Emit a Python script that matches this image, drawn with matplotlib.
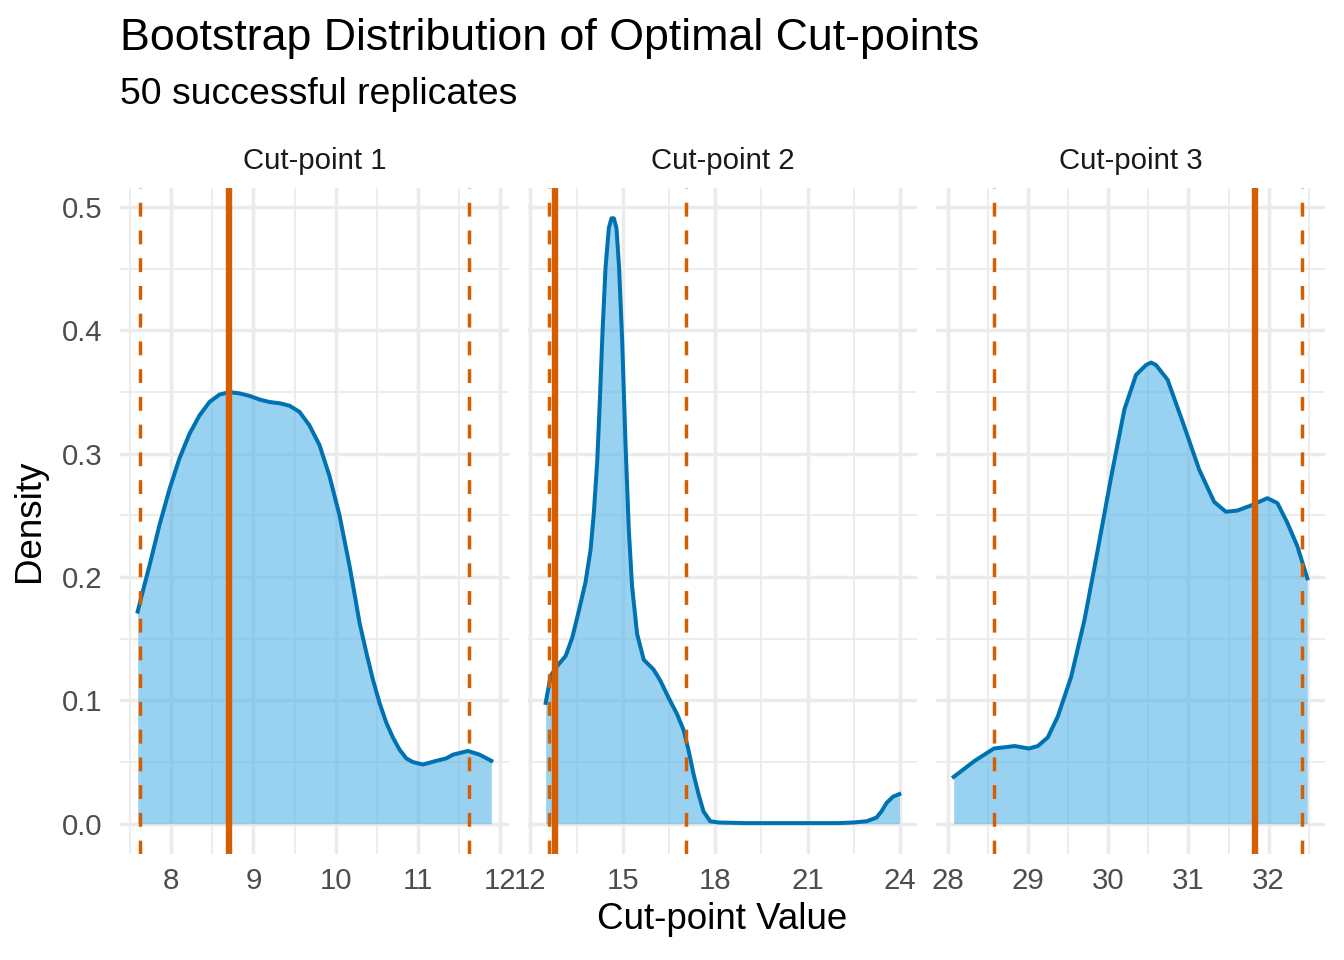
import numpy as np
import matplotlib.pyplot as plt
from matplotlib.ticker import FixedLocator

plt.rcParams['font.family'] = ['Liberation Sans', 'DejaVu Sans']

# density curves (x = cut-point value, y = density)
cp1_x = [7.594, 7.635, 7.736, 7.858, 7.979, 8.10, 8.222, 8.344, 8.466, 8.587,
         8.709, 8.83, 8.952, 9.074, 9.195, 9.317, 9.438, 9.56, 9.681, 9.803,
         9.924, 10.046, 10.168, 10.24, 10.289, 10.371, 10.451, 10.532, 10.614,
         10.694, 10.776, 10.857, 10.937, 11.059, 11.222, 11.343, 11.424, 11.606,
         11.748, 11.89]
cp1_y = [0.172, 0.183, 0.209, 0.242, 0.271, 0.296, 0.316, 0.331, 0.342, 0.348,
         0.350, 0.349, 0.347, 0.344, 0.342, 0.341, 0.339, 0.334, 0.323, 0.307,
         0.282, 0.250, 0.209, 0.182, 0.163, 0.139, 0.117, 0.098, 0.082,
         0.070, 0.060, 0.053, 0.050, 0.048, 0.051, 0.053, 0.056, 0.059,
         0.056, 0.051]

cp2_x = [12.496, 12.658, 12.874, 13.144, 13.36, 13.576, 13.79, 13.953, 14.06,
         14.17, 14.255, 14.34, 14.44, 14.547, 14.633, 14.709, 14.795, 14.88,
         14.98, 15.086, 15.194, 15.30, 15.464, 15.68, 16.0, 16.22, 16.49, 16.76,
         16.975, 17.14, 17.30, 17.46, 17.62, 17.84, 18.11, 19.0, 20.5, 22.0,
         22.49, 22.92, 23.24, 23.4, 23.57, 23.78, 23.98]
cp2_y = [0.098, 0.120, 0.128, 0.136, 0.151, 0.173, 0.196, 0.222, 0.252,
         0.294, 0.343, 0.398, 0.451, 0.483, 0.491, 0.491, 0.483, 0.451,
         0.392, 0.310, 0.239, 0.193, 0.154, 0.133, 0.125, 0.116, 0.102, 0.089,
         0.076, 0.059, 0.040, 0.024, 0.010, 0.002, 0.001, 0.0005, 0.0005, 0.0005,
         0.001, 0.002, 0.005, 0.010, 0.017, 0.022, 0.024]

cp3_x = [28.071, 28.333, 28.573, 28.706, 28.831, 29.009, 29.121, 29.245, 29.37,
         29.536, 29.702, 29.868, 30.035, 30.201, 30.346, 30.471, 30.533, 30.595,
         30.74, 30.927, 31.135, 31.321, 31.467, 31.611, 31.778, 31.985, 32.11,
         32.234, 32.359, 32.483]
cp3_y = [0.038, 0.051, 0.061, 0.062, 0.063, 0.061, 0.063, 0.070, 0.087,
         0.119, 0.165, 0.222, 0.281, 0.336, 0.364, 0.372, 0.374, 0.372,
         0.360, 0.326, 0.287, 0.261, 0.253, 0.254, 0.258, 0.264, 0.260,
         0.244, 0.225, 0.199]

panel_names = ["Cut-point 1", "Cut-point 2", "Cut-point 3"]
estimate = [8.70, 12.80, 31.83]
ci_low = [7.623, 12.59, 28.57]
ci_high = [11.62, 17.06, 32.42]
x_ticks = [[8, 9, 10, 11, 12], [12, 15, 18, 21, 24], [28, 29, 30, 31, 32]]
y_ticks = [0.0, 0.1, 0.2, 0.3, 0.4, 0.5]

curves = [(cp1_x, cp1_y), (cp2_x, cp2_y), (cp3_x, cp3_y)]

W, H = 1344, 960
fig = plt.figure(figsize=(7, 5), dpi=192)
fig.patch.set_facecolor("white")

# shared y range with ggplot style 5% expansion
ymax = max(max(c[1]) for c in curves)
ylim = (-0.05 * ymax, 1.05 * ymax)

lefts = [120, 528, 936]
pw, top, bottom = 389, 188, 854

for i, (xs, ys) in enumerate(curves):
    ax = fig.add_axes([lefts[i] / W, 1 - bottom / H, pw / W, (bottom - top) / H])
    lo = min(min(xs), ci_low[i])
    hi = max(max(xs), ci_high[i])
    pad = 0.05 * (hi - lo)
    ax.set_xlim(lo - pad, hi + pad)
    ax.set_ylim(*ylim)

    ax.fill_between(xs, ys, 0, color="#56B4E9", alpha=0.6, lw=0, zorder=2)
    ax.plot(xs, ys, color="#0072B2", lw=1.5, zorder=3, solid_joinstyle="round")
    ax.axvline(estimate[i], color="#D55E00", lw=2.4, zorder=4)
    for v in (ci_low[i], ci_high[i]):
        ax.axvline(v, color="#D55E00", lw=1.3, ls=(0, (4, 4)), zorder=4)

    t = x_ticks[i]
    step = t[1] - t[0]
    ax.set_xticks(t)
    ax.xaxis.set_minor_locator(FixedLocator([t[0] - step / 2] + [v + step / 2 for v in t]))
    ax.set_yticks(y_ticks)
    ax.yaxis.set_minor_locator(FixedLocator([v + 0.05 for v in y_ticks]))
    ax.grid(which="major", color="#EBEBEB", lw=1.3, zorder=0)
    ax.grid(which="minor", color="#EBEBEB", lw=0.65, zorder=0)
    ax.set_axisbelow(True)
    for s in ax.spines.values():
        s.set_visible(False)
    ax.tick_params(which="both", length=0, labelsize=11, labelcolor="#4D4D4D")
    ax.tick_params(axis="x", pad=5)
    ax.tick_params(axis="y", pad=6.5)
    if i == 0:
        ax.set_yticklabels([f"{v:.1f}" for v in y_ticks])
    else:
        ax.set_yticklabels([])

    fig.text((lefts[i] + pw / 2) / W, 1 - 169 / H, panel_names[i], ha="center",
             va="baseline", fontsize=11, color="#1A1A1A")

fig.text(120 / W, 1 - 50 / H, "Bootstrap Distribution of Optimal Cut-points",
         fontsize=16.8, va="baseline", ha="left")
fig.text(120 / W, 1 - 104 / H, "50 successful replicates",
         fontsize=14, va="baseline", ha="left")
fig.text((lefts[0] + lefts[2] + pw) / 2 / W, 1 - 929 / H, "Cut-point Value",
         fontsize=13.8, ha="center", va="baseline")
fig.text(30 / W, 1 - (top + bottom) / 2 / H, "Density", fontsize=13.8,
         rotation=90, ha="center", va="center")

fig.savefig("out.png", dpi=192)
